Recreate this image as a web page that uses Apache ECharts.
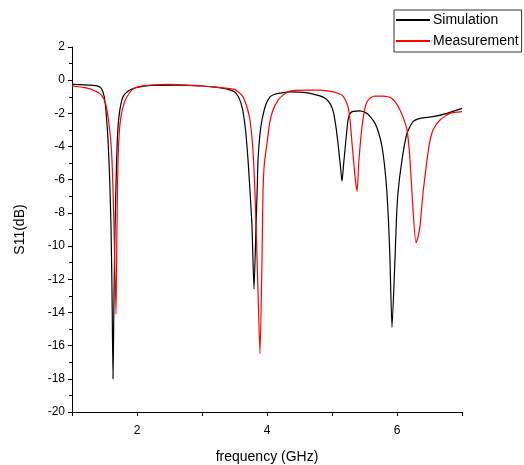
<!DOCTYPE html>
<html>
<head>
<meta charset="utf-8">
<script src="https://cdn.jsdelivr.net/npm/echarts@6/dist/echarts.min.js"></script>
<style>
  html, body { margin: 0; padding: 0; background: #fff; }
  #chart { width: 524px; height: 465px; }
</style>
</head>
<body>
<div id="chart"></div>
<script>
// values
const simFreq = [1.0, 1.3, 1.4, 1.45, 1.48, 1.508, 1.53, 1.554, 1.58, 1.6, 1.615, 1.631, 1.647, 1.662, 1.685, 1.708, 1.74, 1.785, 1.85, 1.94, 2.05, 2.2, 2.6, 3.0, 3.2, 3.4, 3.5, 3.56, 3.6, 3.631, 3.67, 3.708, 3.74, 3.769, 3.8, 3.831, 3.85, 3.862, 3.89, 3.923, 3.98, 4.046, 4.12, 4.2, 4.354, 4.6, 4.815, 4.9, 4.969, 5.02, 5.06, 5.092, 5.13, 5.154, 5.18, 5.2, 5.246, 5.28, 5.323, 5.431, 5.538, 5.6, 5.662, 5.72, 5.769, 5.81, 5.846, 5.875, 5.892, 5.923, 5.969, 5.99, 6.015, 6.077, 6.154, 6.246, 6.354, 6.554, 6.769, 7.0];
const simS11 = [-0.25, -0.3, -0.36, -0.5, -0.75, -1.3, -2.2, -3.6, -6.0, -8.8, -12.5, -18.0, -12.8, -8.9, -5.0, -2.8, -1.7, -1.0, -0.7, -0.5, -0.4, -0.32, -0.3, -0.35, -0.42, -0.55, -0.7, -1.0, -1.4, -1.9, -3.0, -4.8, -6.8, -8.8, -12.6, -8.8, -6.5, -4.8, -3.3, -2.4, -1.5, -1.0, -0.85, -0.78, -0.7, -0.75, -0.95, -1.1, -1.4, -1.9, -2.8, -3.8, -5.2, -6.1, -5.0, -4.2, -2.4, -2.0, -1.88, -1.85, -2.0, -2.25, -2.6, -3.2, -4.0, -5.2, -6.8, -9.0, -10.8, -14.9, -10.8, -8.5, -6.8, -4.8, -3.2, -2.5, -2.3, -2.2, -2.0, -1.7];

const measFreq = [1.0, 1.2, 1.3, 1.354, 1.42, 1.46, 1.508, 1.554, 1.585, 1.6, 1.615, 1.63, 1.646, 1.677, 1.692, 1.708, 1.73, 1.754, 1.8, 1.846, 1.92, 2.0, 2.2, 2.5, 3.0, 3.3, 3.5, 3.585, 3.631, 3.69, 3.738, 3.78, 3.815, 3.862, 3.892, 3.923, 3.938, 3.96, 4.0, 4.04, 4.092, 4.17, 4.246, 4.354, 4.6, 4.815, 5.015, 5.1, 5.154, 5.2, 5.246, 5.28, 5.308, 5.354, 5.385, 5.415, 5.462, 5.5, 5.538, 5.6, 5.662, 5.785, 5.86, 5.923, 5.99, 6.046, 6.1, 6.154, 6.2, 6.246, 6.292, 6.32, 6.354, 6.4, 6.462, 6.5, 6.554, 6.662, 6.815, 7.0];
const measS11 = [-0.35, -0.45, -0.55, -0.65, -0.78, -0.95, -1.3, -2.2, -3.2, -3.8, -4.8, -6.5, -8.8, -14.1, -8.8, -4.8, -3.0, -2.2, -1.4, -1.0, -0.6, -0.42, -0.3, -0.25, -0.35, -0.45, -0.55, -0.8, -1.0, -1.6, -2.4, -4.0, -6.8, -12.8, -16.5, -10.8, -6.8, -5.0, -3.8, -2.6, -1.8, -1.2, -0.9, -0.65, -0.6, -0.6, -0.7, -0.8, -0.9, -1.15, -1.6, -2.5, -3.8, -5.8, -6.7, -4.8, -2.8, -1.8, -1.3, -1.05, -0.96, -0.96, -1.0, -1.1, -1.4, -1.8, -2.3, -3.0, -4.8, -7.8, -9.8, -9.5, -8.8, -6.8, -4.8, -3.8, -3.0, -2.4, -2.0, -1.9];

const pairs = (xs, ys) => xs.map((x, i) => [x, ys[i]]);

const chart = echarts.init(document.getElementById('chart'));
const font = 'Liberation Sans, Arial, sans-serif';

chart.setOption({
    animation: false,
    grid: {left: 72, right: 62, top: 47, bottom: 53, outerBoundsMode: 'none'},
    legend: {
        orient: 'vertical',
        left: 394,
        top: 10,
        data: ['Simulation', 'Measurement'],
        itemWidth: 34,
        itemHeight: 14,
        itemGap: 7,
        padding: [3, 3, 4, 1],
        borderColor: '#333',
        borderWidth: 1,
        itemStyle: {opacity: 0},
        textStyle: {fontFamily: font, fontSize: 14, color: '#000', padding: [0, 0, 0, -2]}
    },
    xAxis: {
        type: 'value',
        min: 1,
        max: 7,
        interval: 1,
        name: 'frequency (GHz)',
        nameLocation: 'middle',
        nameGap: 38,
        nameTextStyle: {fontFamily: font, fontSize: 14, color: '#000'},
        axisLine: {onZero: false, lineStyle: {color: '#000', width: 1}},
        axisTick: {length: 4, lineStyle: {color: '#000'}},
        axisLabel: {
            fontFamily: font, fontSize: 12, color: '#000', margin: 13,
            formatter: v => (v % 2 === 0 ? String(v) : '')
        },
        splitLine: {show: false}
    },
    yAxis: {
        type: 'value',
        min: -20,
        max: 2,
        interval: 2,
        name: 'S11(dB)',
        nameLocation: 'middle',
        nameGap: 45,
        nameTextStyle: {fontFamily: font, fontSize: 14, color: '#000'},
        axisLine: {show: true, onZero: false, lineStyle: {color: '#000', width: 1}},
        axisTick: {show: true, length: 4, lineStyle: {color: '#000'}},
        minorTick: {show: true, splitNumber: 2, length: 3, lineStyle: {color: '#000'}},
        axisLabel: {fontFamily: font, fontSize: 12, color: '#000', margin: 7},
        splitLine: {show: false}
    },
    series: [
        {
            name: 'Simulation',
            type: 'line',
            symbol: 'none',
            smooth: 0.2,
            data: pairs(simFreq, simS11),
            lineStyle: {color: '#000', width: 1.2},
            itemStyle: {color: '#000'}
        },
        {
            name: 'Measurement',
            type: 'line',
            symbol: 'none',
            smooth: 0.2,
            data: pairs(measFreq, measS11),
            lineStyle: {color: '#ff0000', width: 1.2},
            itemStyle: {color: '#ff0000'}
        }
    ]
});
</script>
</body>
</html>
